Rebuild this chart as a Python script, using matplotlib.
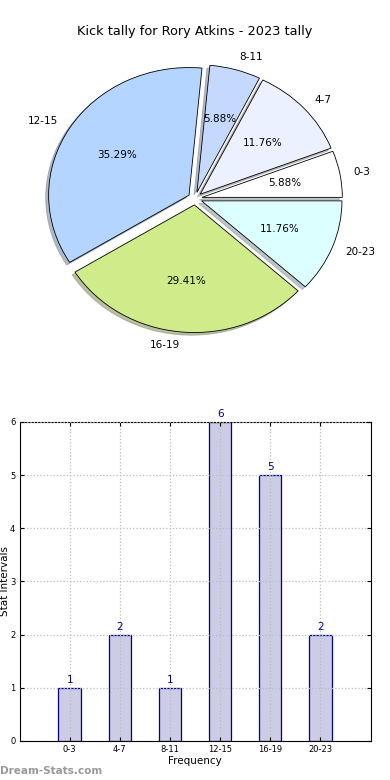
import matplotlib
matplotlib.use("Agg")
import matplotlib.pyplot as plt

# dados
labels = ["0-3", "4-7", "8-11", "12-15", "16-19", "20-23"]
counts = [1, 2, 1, 6, 5, 2]
pie_colors = ["#ffffff", "#ebf1ff", "#c5d9ff", "#b4d5ff", "#d0eb8a", "#dcffff"]

fig = plt.figure(figsize=(3.9, 7.8), dpi=100)
plt.subplots_adjust(left=0.05, right=0.95, top=0.95, bottom=0.05, hspace=0.2)

# pizza
ax1 = fig.add_subplot(2, 1, 1)
wedges, texts, autotexts = ax1.pie(
    counts, labels=labels, colors=pie_colors, explode=[0.05] * len(counts),
    autopct="%1.2f%%", startangle=0,
    shadow={"ox": -0.015, "oy": -0.015, "shade": 0.45},
    wedgeprops={"edgecolor": "black", "linewidth": 0.6},
    textprops={"fontsize": 7.5},
)
ax1.set_aspect("auto")
ax1.set_xlim(-1.25, 1.25)
ax1.set_ylim(-1.25, 1.25)
ax1.set_title("Kick tally for Rory Atkins - 2023 tally", fontsize=9.3, pad=3)

# barras
ax2 = fig.add_subplot(2, 1, 2)
x = list(range(len(labels)))
ax2.bar(x, counts, width=0.45, color="#ccccE6", edgecolor="#00008b", linewidth=0.9)
for xi, c in zip(x, counts):
    ax2.text(xi, c + 0.05, str(c), ha="center", va="bottom", color="#00008b", fontsize=7.5)
ax2.set_xlim(-1, 6)
ax2.set_ylim(0, 6)
ax2.set_xticks(x)
ax2.set_xticklabels(labels)
ax2.set_yticks(range(0, 7))
ax2.tick_params(axis="both", labelsize=6, direction="in", top=True, right=True, length=3, pad=3)
ax2.grid(True, linestyle=":", color="#bbbbbb", linewidth=0.9)
ax2.set_axisbelow(False)
ax2.set_xlabel("Frequency", fontsize=7.5, labelpad=1)
ax2.set_ylabel("Stat Intervals", fontsize=7.5, labelpad=0)

fig.text(0.0, 0.005, "Dream-Stats.com", color="#999999", fontsize=7.5, fontweight="bold", ha="left", va="bottom")

fig.savefig("out.png", dpi=100)
